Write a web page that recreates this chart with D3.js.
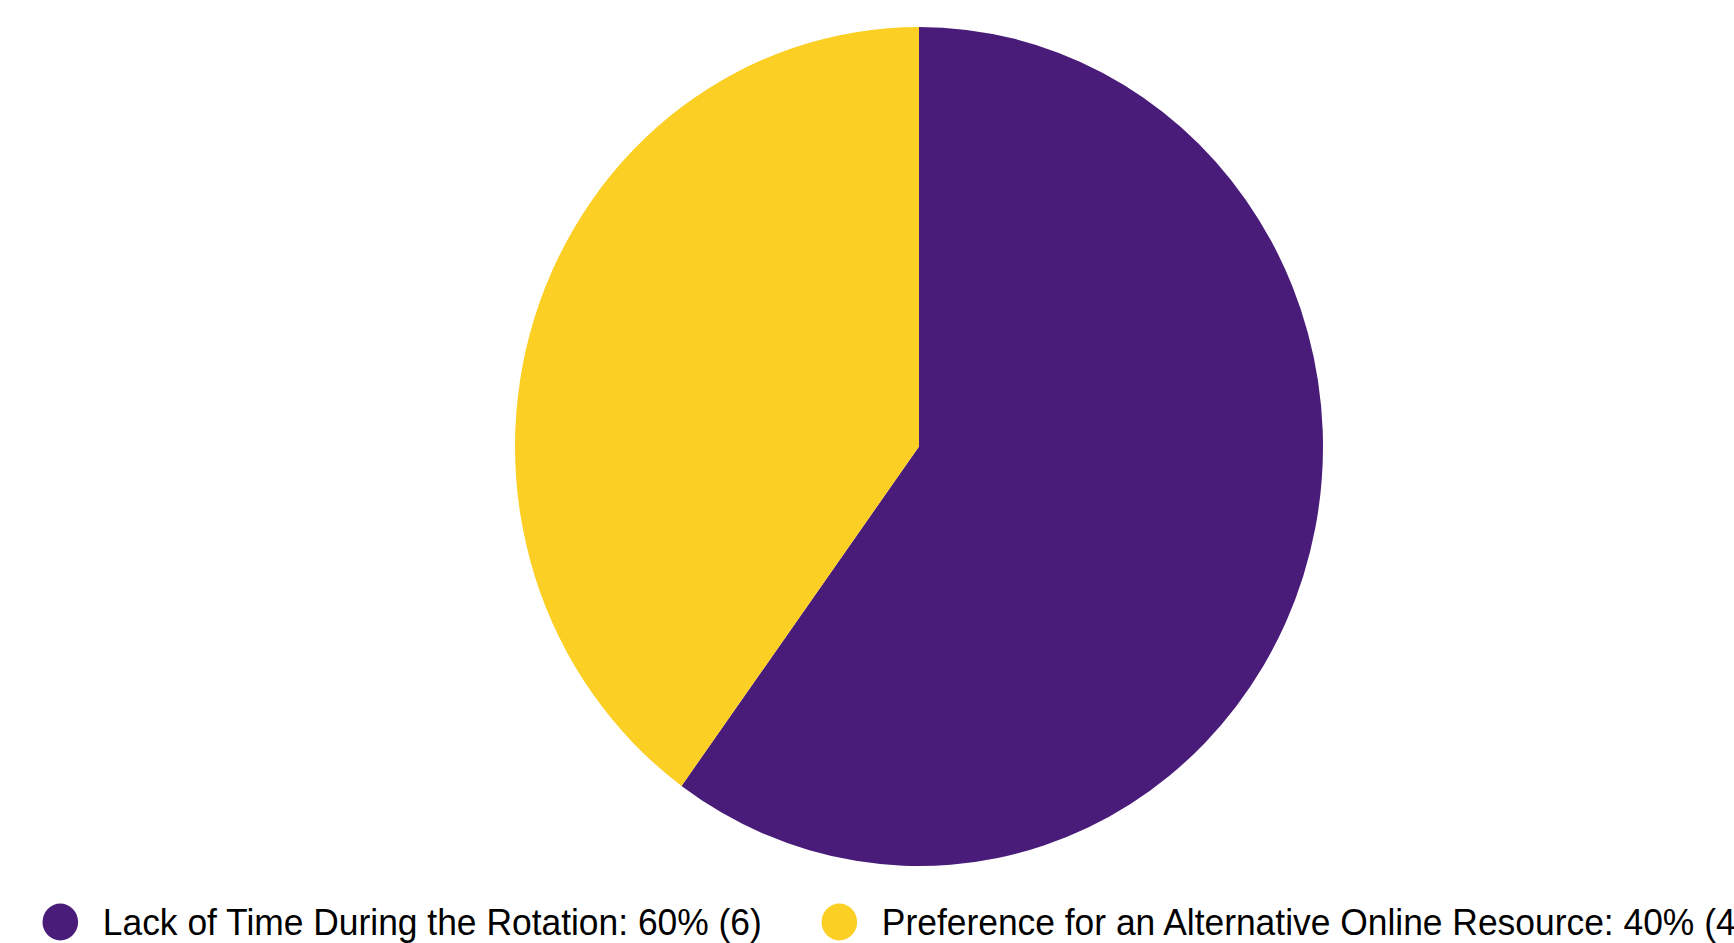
<!DOCTYPE html>
<html>
<head>
<meta charset="utf-8">
<script src="https://cdn.jsdelivr.net/npm/d3@7"></script>
<style>
  html, body { margin: 0; padding: 0; background: #ffffff; overflow: hidden; }
  svg { display: block; }
</style>
</head>
<body>
<svg id="chart" width="1734" height="943"></svg>
<script>
// Data
const categories = ["Lack of Time During the Rotation", "Preference for an Alternative Online Resource"];
const counts = [6, 4];
const colors = ["#4a1c7a", "#fccf24"];

const W = 1734, H = 943;
const svg = d3.select("#chart");

const cx = 919, cy = 446.5, rx = 404, ry = 419.5;
const sy = ry / rx;

const total = d3.sum(counts);
const data = categories.map((c, i) => ({ name: c, value: counts[i], color: colors[i] }));

const pie = d3.pie().value(d => d.value).sort(null);
const arc = d3.arc().innerRadius(0).outerRadius(rx);

const g = svg.append("g").attr("transform", `translate(${cx},${cy}) scale(1,${sy})`);
g.selectAll("path")
  .data(pie(data))
  .join("path")
  .attr("d", arc)
  .attr("fill", d => d.data.color);

// Legend
const fontSize = 35.4;
const legend = svg.append("g").attr("transform", `translate(0,935) scale(1,${sy})`);
let x = 60.3;
data.forEach((d, i) => {
  const pct = Math.round(d.value / total * 100);
  legend.append("circle")
    .attr("cx", x)
    .attr("cy", -12.5)
    .attr("r", 17.8)
    .attr("fill", d.color);
  const t = legend.append("text")
    .attr("x", x + 42.5)
    .attr("y", 0)
    .attr("font-family", "'Liberation Sans', Arial, sans-serif")
    .attr("font-size", fontSize)
    .attr("fill", "#000")
    .text(`${d.name}: ${pct}% (${d.value})`);
  const w = t.node().getComputedTextLength();
  x = x + 42.5 + w + 77.5;
});
</script>
</body>
</html>
